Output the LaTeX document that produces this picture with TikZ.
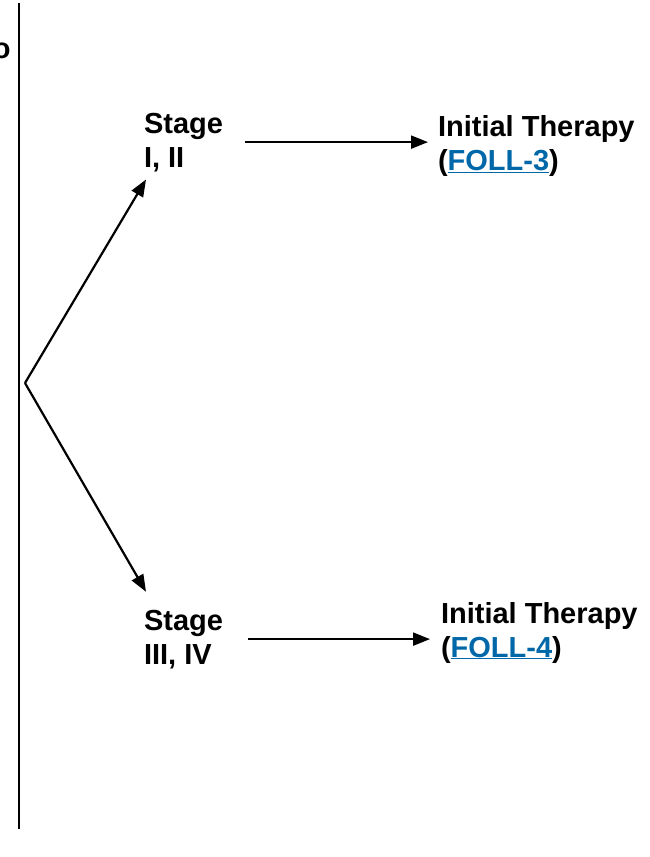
\documentclass[tikz,border=0pt]{standalone}
\usepackage{fontspec}
\setmainfont{Liberation Sans}
\usetikzlibrary{arrows.meta}
\definecolor{linkblue}{RGB}{0,104,168}
\tikzset{
  lbl/.style={inner sep=0pt, outer sep=0pt, align=left, font=\fontsize{29}{34}\selectfont\bfseries},
  arr/.style={line width=2.2pt, -{Triangle[length=17pt,width=13pt]}},
  frame/.style={line width=2.6pt}
}
\newcommand{\lnk}[1]{\textcolor{linkblue}{\underline{#1}}}
\begin{document}
\begin{tikzpicture}[x=1pt,y=-1pt]
\useasboundingbox (0,0) rectangle (649,857);
\clip (0,0) rectangle (649,857);
\node[lbl, anchor=base east] (cut) at (10.5,58) {o};
\coordinate (ftop) at (19,3);
\coordinate (fbot) at (19,829);
\draw[frame] (ftop) -- (fbot);
\node[lbl, anchor=base west] (s1) at (144,167) {Stage\\I, II};
\node[lbl, anchor=base west] (t1) at (438,170) {Initial Therapy\\(\lnk{FOLL-3})};
\node[lbl, anchor=base west] (s2) at (144,664) {Stage\\III, IV};
\node[lbl, anchor=base west] (t2) at (441,657) {Initial Therapy\\(\lnk{FOLL-4})};
\coordinate (br) at (25,383);
\draw[arr] (br) -- ([shift={(2,8)}]s1.south west);
\draw[arr] (br) -- ([shift={(2,-18)}]s2.north west);
\draw[arr] ([xshift=22pt]s1.east) -- ([xshift=-10pt]s1.east -| t1.west);
\draw[arr] ([xshift=25pt]s2.east) -- ([xshift=-11pt]s2.east -| t2.west);
\end{tikzpicture}
\end{document}
